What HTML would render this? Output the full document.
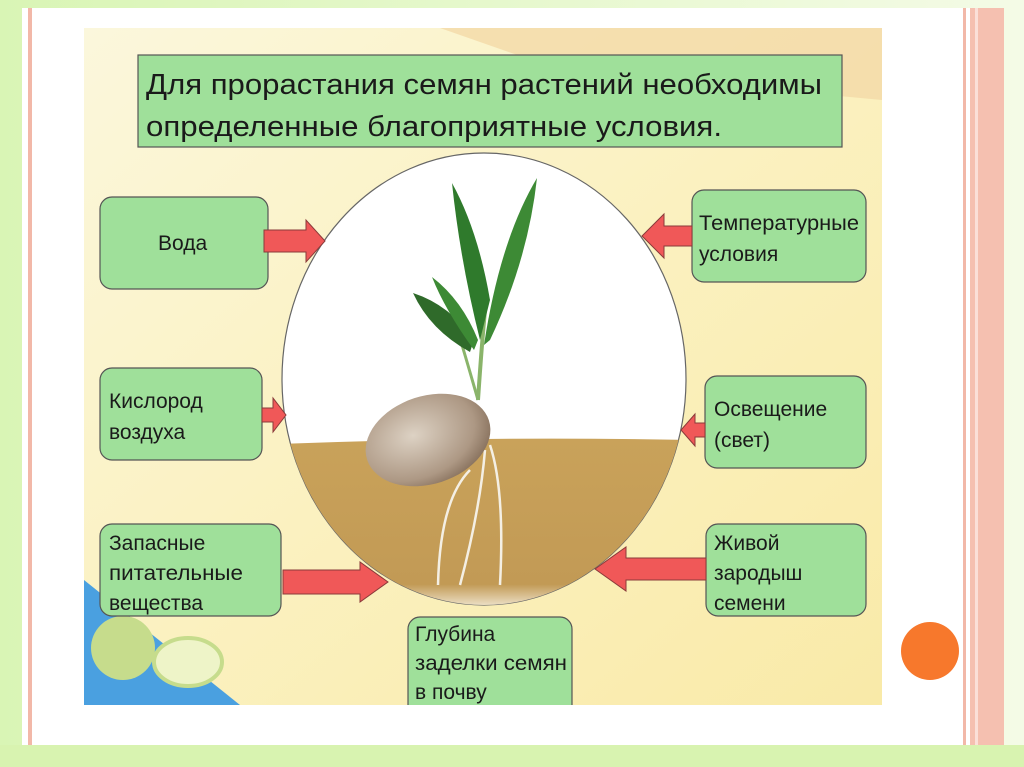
<!DOCTYPE html>
<html><head><meta charset="utf-8"><style>
html,body{margin:0;padding:0;width:1024px;height:767px;overflow:hidden;background:#e4f7c8;}
svg{display:block}
text{font-family:"Liberation Sans","DejaVu Sans",sans-serif;fill:#1a1a1a;}
</style></head><body>
<svg width="1024" height="767" viewBox="0 0 1024 767" xmlns="http://www.w3.org/2000/svg">
<defs>
<linearGradient id="bg" x1="0" y1="0" x2="1" y2="0"><stop offset="0" stop-color="#d9f5b5"/><stop offset="1" stop-color="#f4fbe6"/></linearGradient>
<linearGradient id="img" x1="0" y1="0" x2="1" y2="1"><stop offset="0" stop-color="#fbf7dc"/><stop offset="0.5" stop-color="#fbf1c0"/><stop offset="1" stop-color="#f9eaa8"/></linearGradient>
<linearGradient id="soil" x1="0" y1="0" x2="0" y2="1"><stop offset="0" stop-color="#c9a25a"/><stop offset="0.85" stop-color="#c29a55"/><stop offset="1" stop-color="#f5eedd"/></linearGradient>
<radialGradient id="seed" cx="0.4" cy="0.4" r="0.7"><stop offset="0" stop-color="#ddd2c4"/><stop offset="0.7" stop-color="#ad9884"/><stop offset="1" stop-color="#7d6652"/></radialGradient>
<clipPath id="ell"><ellipse cx="484" cy="379" rx="202" ry="226"/></clipPath>
</defs>
<rect width="1024" height="767" fill="url(#bg)"/>
<rect x="22" y="8" width="982" height="737" fill="#fff"/>
<rect x="28" y="8" width="4" height="737" fill="#f2b8a8"/>
<rect x="963" y="8" width="3" height="737" fill="#f2b8a8"/>
<rect x="970" y="8" width="34" height="737" fill="#f5c0b0"/>
<rect x="975" y="8" width="3" height="737" fill="#fbe0d8"/>
<rect x="0" y="745" width="1024" height="22" fill="#d8f3b0"/>
<rect x="84" y="28" width="798" height="677" fill="url(#img)"/>
<polygon points="440,28 882,28 882,100 560,70" fill="#f4d9a8" opacity="0.8"/>
<polygon points="84,580 84,705 240,705" fill="#4aa0e0"/>
<circle cx="123" cy="648" r="32" fill="#c6dc8c"/>
<ellipse cx="188" cy="662" rx="34" ry="24" fill="#eef4c8" stroke="#c6dc8c" stroke-width="4"/>
<circle cx="930" cy="651" r="29" fill="#f7782c"/>
<rect x="138" y="55" width="704" height="92" fill="#9fe09a" stroke="#555" stroke-width="1.2"/>
<text x="146" y="94" font-size="29" textLength="676" lengthAdjust="spacingAndGlyphs">Для прорастания семян растений необходимы</text>
<text x="146" y="136" font-size="29" textLength="576" lengthAdjust="spacingAndGlyphs">определенные благоприятные условия.</text>
<ellipse cx="484" cy="379" rx="202" ry="226" fill="#fff" stroke="#666" stroke-width="1.2"/>
<g clip-path="url(#ell)">
<path d="M280,444 Q480,436 690,440 L690,610 L280,610 Z" fill="url(#soil)"/>
</g>
<g fill="none" stroke="#f4efe4" stroke-width="2.5">
<path d="M490,445 Q505,490 500,585"/>
<path d="M485,450 Q480,510 460,585"/>
<path d="M470,470 Q440,500 438,585"/>
</g>
<path d="M478,400 Q482,340 486,300" stroke="#8ab46a" stroke-width="4" fill="none"/>
<path d="M478,400 Q468,365 462,345" stroke="#8ab46a" stroke-width="3" fill="none"/>
<path d="M480,340 Q460,260 452,183 Q478,230 490,300 Z" fill="#2f7a2c"/>
<path d="M484,345 Q500,240 537,178 Q528,260 490,340 Z" fill="#3d8a35"/>
<path d="M470,352 Q430,330 413,293 Q450,305 474,340 Z" fill="#2f6a2a"/>
<path d="M474,350 Q445,310 432,277 Q462,300 478,340 Z" fill="#3d8a35"/>
<ellipse cx="428" cy="440" rx="64" ry="44" transform="rotate(-18 428 440)" fill="url(#seed)"/>
<g fill="#9fe09a" stroke="#555" stroke-width="1.2">
<rect x="100" y="197" width="168" height="92" rx="12"/>
<rect x="692" y="190" width="174" height="92" rx="12"/>
<rect x="100" y="368" width="162" height="92" rx="12"/>
<rect x="705" y="376" width="161" height="92" rx="12"/>
<rect x="100" y="524" width="181" height="92" rx="12"/>
<rect x="706" y="524" width="160" height="92" rx="12"/>
<rect x="408" y="617" width="164" height="100" rx="12"/>
</g>
<rect x="400" y="705" width="180" height="40" fill="#fff"/>
<g font-size="21">
<text x="158" y="250">Вода</text>
<text x="699" y="230" textLength="160" lengthAdjust="spacingAndGlyphs">Температурные</text>
<text x="699" y="261">условия</text>
<text x="109" y="408">Кислород</text>
<text x="109" y="439">воздуха</text>
<text x="714" y="416">Освещение</text>
<text x="714" y="447">(свет)</text>
<text x="109" y="550">Запасные</text>
<text x="109" y="580" textLength="134" lengthAdjust="spacingAndGlyphs">питательные</text>
<text x="109" y="610">вещества</text>
<text x="714" y="550">Живой</text>
<text x="714" y="580">зародыш</text>
<text x="714" y="610">семени</text>
<text x="415" y="641">Глубина</text>
<text x="415" y="670" textLength="152" lengthAdjust="spacingAndGlyphs">заделки семян</text>
<text x="415" y="699">в почву</text>
</g>
<g fill="#f05858" stroke="#8a3a3a" stroke-width="1">
<polygon points="264,230 306,230 306,220 325,241 306,262 306,252 264,252"/>
<polygon points="692,226 664,226 664,214 642,236 664,258 664,246 692,246"/>
<polygon points="262,408 273,408 273,398 286,415 273,432 273,422 262,422"/>
<polygon points="705,423 695,423 695,414 681,430 695,446 695,437 705,437"/>
<polygon points="283,570 360,570 360,562 388,582 360,602 360,594 283,594"/>
<polygon points="706,558 626,558 626,547 595,569 626,591 626,580 706,580"/>
</g>
</svg>
</body></html>
